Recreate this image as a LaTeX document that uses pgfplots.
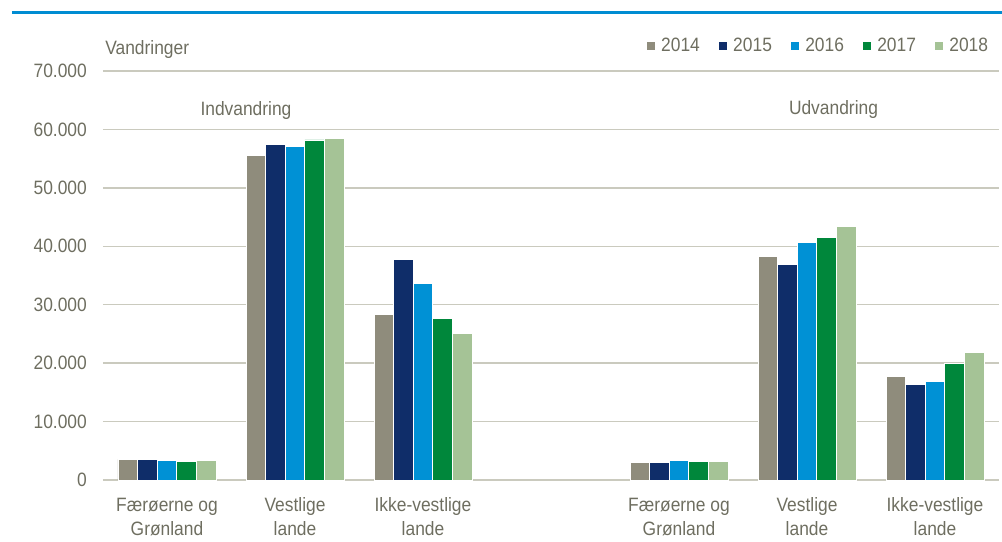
\documentclass[border=0pt]{standalone}
\usepackage{pgfplots}
\pgfplotsset{compat=1.18}
\usepackage{fontspec}
\setmainfont{Liberation Sans}[FakeStretch=0.9]
\definecolor{textc}{RGB}{110,110,96}
\definecolor{gridc}{RGB}{202,202,190}
\definecolor{cA}{RGB}{143,140,124}
\definecolor{cB}{RGB}{15,45,105}
\definecolor{cC}{RGB}{0,145,213}
\definecolor{cD}{RGB}{0,135,59}
\definecolor{cE}{RGB}{165,195,150}
\definecolor{topline}{RGB}{0,140,210}
\newcommand{\lf}{\fontsize{14.5}{18}\selectfont}
\begin{document}
\begin{tikzpicture}
\useasboundingbox (-77.25pt,-46.5pt) rectangle (674.25pt,360pt);
\begin{axis}[
  name=ax,
  at={(0,0)}, anchor=south west,
  scale only axis,
  width=672pt, height=306.75pt,
  ybar=0pt, bar width=14.7pt,
  xmin=-0.5, xmax=6.5,
  ymin=0, ymax=70000,
  ytick={0,10000,...,70000},
  xtick={0,1,2,4,5,6},
  xticklabels={F\ae r\o erne og\\Gr\o nland, Vestlige\\lande, Ikke-vestlige\\lande, F\ae r\o erne og\\Gr\o nland, Vestlige\\lande, Ikke-vestlige\\lande},
  xticklabel style={align=center, font=\lf, text=textc, yshift=-9.8pt},
  yticklabel style={font=\lf, text=textc, xshift=-8.6pt},
  /pgf/number format/.cd, 1000 sep={.}, assume math mode=true,
  /pgfplots/.cd,
  scaled y ticks=false,
  major tick length=0pt,
  axis line style={draw=none},
  ymajorgrids, grid style={color=gridc, line width=1.1pt},
  legend columns=5,
  legend style={at={(1,1)}, anchor=east, xshift=-6pt, yshift=18.75pt, draw=none, fill=none, inner sep=0pt,
    font=\lf, text=textc,
    /tikz/every odd column/.append style={column sep=3pt},
    /tikz/every even column/.append style={column sep=12pt}},
  legend image code/.code={\fill[#1,draw=none] (0pt,-3pt) rectangle (6pt,3pt);},
  every axis plot/.append style={draw=white, line width=0.6pt},
  clip=false,
]
\addplot[fill=cA] coordinates {(0,3540) (1,55560) (2,28300) (4,3080) (5,38300) (6,17700)};
\addplot[fill=cB] coordinates {(0,3590) (1,57400) (2,37700) (4,2960) (5,36900) (6,16400)};
\addplot[fill=cC] coordinates {(0,3370) (1,57100) (2,33700) (4,3370) (5,40600) (6,16900)};
\addplot[fill=cD] coordinates {(0,3200) (1,58200) (2,27700) (4,3250) (5,41500) (6,19900)};
\addplot[fill=cE] coordinates {(0,3370) (1,58500) (2,25100) (4,3130) (5,43400) (6,21900)};
\legend{2014,2015,2016,2017,2018}
\node[anchor=base, inner sep=0pt, text=textc, font=\lf] at (axis cs:0.617,62300) {Indvandring};
\node[anchor=base, inner sep=0pt, text=textc, font=\lf] at (axis cs:5.207,62600) {Udvandring};
\end{axis}
\node[anchor=base west, inner sep=0pt, text=textc, font=\lf] at (1.5pt,318.75pt) {Vandringer};
\draw[topline, line width=1.9pt] (-68.25pt,350.6pt) -- (674.25pt,350.6pt);
\end{tikzpicture}
\end{document}
